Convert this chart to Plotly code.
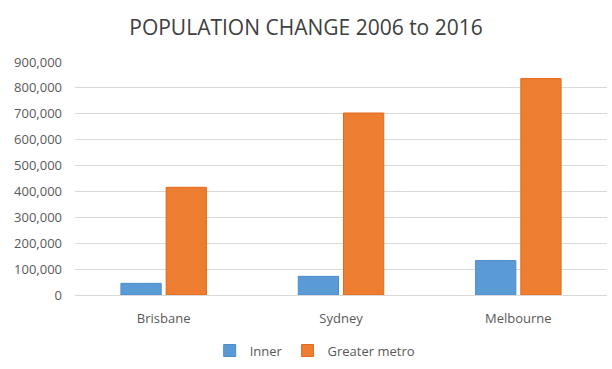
import plotly.graph_objects as go

categories = ["Brisbane", "Sydney", "Melbourne"]
inner = [45000, 72000, 133000]
greater_metro = [416000, 703000, 836000]
tick_vals = [0, 100000, 200000, 300000, 400000, 500000, 600000, 700000, 800000, 900000]
tick_text = ["0", "100,000", "200,000", "300,000", "400,000", "500,000",
             "600,000", "700,000", "800,000", "900,000"]

fig = go.Figure()
fig.add_trace(go.Bar(name="Inner", x=categories, y=inner,
                     marker=dict(color="#5b9bd5", line=dict(color="#4a8ccc", width=1))))
fig.add_trace(go.Bar(name="Greater metro", x=categories, y=greater_metro,
                     marker=dict(color="#ed7d31", line=dict(color="#e4691b", width=1))))

fig.update_layout(
    width=612, height=369,
    margin=dict(l=75, r=5, t=62, b=74, autoexpand=False),
    paper_bgcolor="white", plot_bgcolor="white",
    barmode="group", bargap=0.49, bargroupgap=0.11,
    font=dict(family="Open Sans, Liberation Sans, sans-serif", color="#595959", size=13),
    title=dict(text="POPULATION CHANGE 2006 to 2016", x=0.5, xanchor="center",
               y=0.925, yanchor="middle",
               font=dict(size=21, color="#404040")),
    legend=dict(orientation="h", xref="container", x=0.515, xanchor="center",
                yref="container", y=0.05, yanchor="middle",
                font=dict(size=13, color="#595959"), itemwidth=30),
    showlegend=True,
)
fig.update_yaxes(range=[0, 900000], tickvals=tick_vals, ticktext=tick_text,
                 showgrid=True, gridcolor="#d9d9d9", gridwidth=1,
                 zeroline=False, showline=False, ticks="", ticklabelstandoff=12,
                 tickfont=dict(size=13, color="#595959"))
fig.update_xaxes(showline=True, linecolor="#d9d9d9", linewidth=1, ticks="",
                 tickfont=dict(size=13, color="#595959"), ticklabelstandoff=11)

fig.write_html("out.html", config={"displayModeBar": False},
               post_script="document.body.style.margin='0';document.body.style.padding='0';")
